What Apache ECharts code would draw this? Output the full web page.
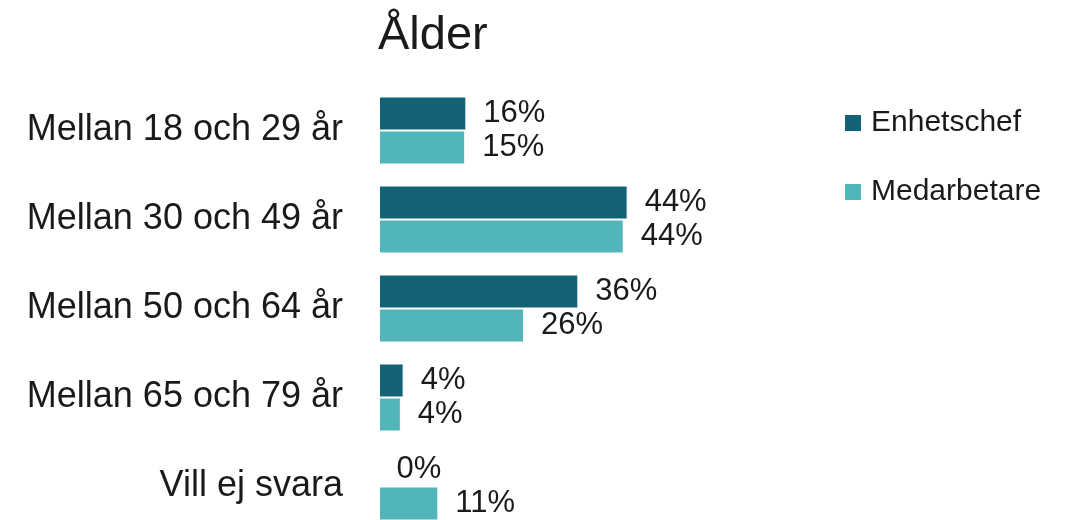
<!DOCTYPE html>
<html>
<head>
<meta charset="utf-8">
<script src="https://cdn.jsdelivr.net/npm/echarts@6/dist/echarts.min.js"></script>
<style>
  html, body { margin: 0; padding: 0; background: #fff; }
  #main { width: 1074px; height: 520px; }
</style>
</head>
<body>
<div id="main"></div>
<script>
// data
var categories = ['Mellan 18 och 29 år', 'Mellan 30 och 49 år', 'Mellan 50 och 64 år', 'Mellan 65 och 79 år', 'Vill ej svara'];
var enhetschef = [15.6, 44.4, 35.6, 4.4, 0];
var medarbetare = [15.4, 43.7, 25.9, 3.9, 10.6];
var seriesNames = ['Enhetschef', 'Medarbetare'];

var font = 'Liberation Sans';
var chart = echarts.init(document.getElementById('main'));

function pct(p) {
    return Math.round(p.value) + '%';
}

var option = {
    animation: false,
    color: ['#136276', '#51b5b9'],
    title: {
        text: 'Ålder',
        left: 373,
        top: 8,
        textStyle: { fontFamily: font, fontSize: 47, fontWeight: 'normal', color: '#1a1a1a' }
    },
    legend: {
        orient: 'vertical',
        left: 838,
        top: 103,
        itemWidth: 18,
        itemHeight: 18,
        itemGap: 39,
        icon: 'rect',
        data: seriesNames,
        textStyle: { fontFamily: font, fontSize: 30, color: '#1a1a1a', padding: [0, 0, 0, 4] }
    },
    grid: {
        left: 379,
        top: 86,
        width: 560,
        height: 445,
        containLabel: false,
        outerBoundsMode: 'none'
    },
    xAxis: {
        type: 'value',
        min: 0,
        max: 100,
        show: false
    },
    yAxis: {
        type: 'category',
        inverse: true,
        data: categories,
        axisLine: { show: false },
        axisTick: { show: false },
        axisLabel: { margin: 36, fontFamily: font, fontSize: 36, color: '#1a1a1a' }
    },
    series: [
        {
            name: seriesNames[0],
            type: 'bar',
            data: enhetschef,
            barWidth: 34,
            barGap: '0%',
            itemStyle: { borderColor: '#fff', borderWidth: 1 },
            label: { show: true, position: 'right', distance: 17, formatter: pct, fontFamily: font, fontSize: 31, color: '#1a1a1a' }
        },
        {
            name: seriesNames[1],
            type: 'bar',
            data: medarbetare,
            barWidth: 34,
            itemStyle: { borderColor: '#fff', borderWidth: 1 },
            label: { show: true, position: 'right', distance: 17, formatter: pct, fontFamily: font, fontSize: 31, color: '#1a1a1a' }
        }
    ]
};
chart.setOption(option);
</script>
</body>
</html>
